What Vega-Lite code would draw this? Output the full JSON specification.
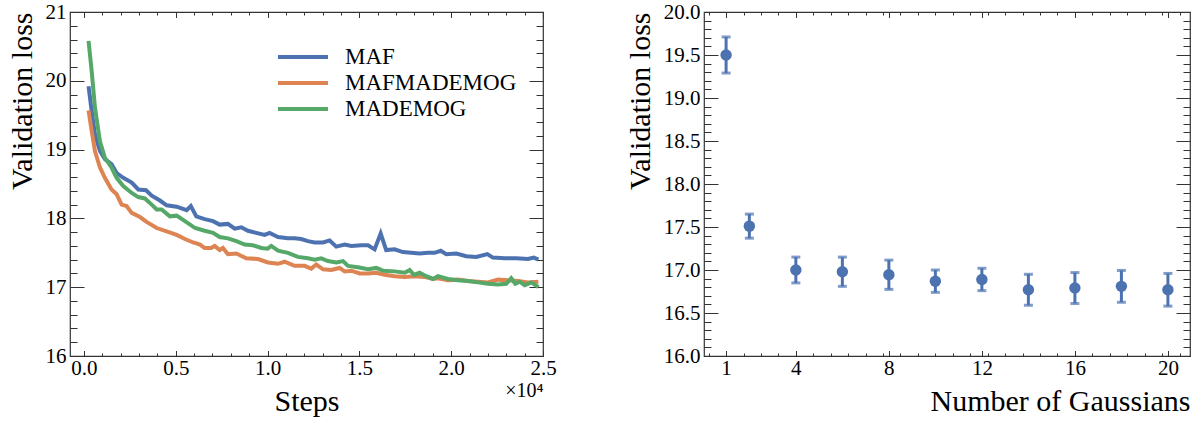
{
  "$schema": "https://vega.github.io/schema/vega-lite/v6.json",
  "padding": {"left": 6, "top": 0, "right": 5, "bottom": 5},
  "background": "white",
  "config": {
    "font": "Liberation Serif",
    "view": {"stroke": "#333", "strokeWidth": 1.2},
    "axis": {"grid": false, "domain": false, "tickColor": "#333", "tickWidth": 1, "labelFont": "Liberation Serif", "labelFontSize": 21, "labelColor": "#000", "titleFont": "Liberation Serif", "titleFontSize": 30, "titleFontWeight": "normal", "titleColor": "#000", "labelFlush": false, "labelOverlap": false}
  },
  "spacing": 67,
  "datasets": {
    "loss": [
      {"step":250,"loss":19.92,"model":"MAF"},{"step":420,"loss":19.56,"model":"MAF"},{"step":600,"loss":19.22,"model":"MAF"},{"step":870,"loss":18.98,"model":"MAF"},{"step":1140,"loss":18.86,"model":"MAF"},{"step":1500,"loss":18.79,"model":"MAF"},{"step":1780,"loss":18.66,"model":"MAF"},{"step":2140,"loss":18.59,"model":"MAF"},{"step":2600,"loss":18.52,"model":"MAF"},{"step":2960,"loss":18.42,"model":"MAF"},{"step":3380,"loss":18.41,"model":"MAF"},{"step":3690,"loss":18.33,"model":"MAF"},{"step":4140,"loss":18.26,"model":"MAF"},{"step":4500,"loss":18.19,"model":"MAF"},{"step":5050,"loss":18.17,"model":"MAF"},{"step":5590,"loss":18.12,"model":"MAF"},{"step":5820,"loss":18.18,"model":"MAF"},{"step":6120,"loss":18.03,"model":"MAF"},{"step":6570,"loss":17.99,"model":"MAF"},{"step":7030,"loss":17.96,"model":"MAF"},{"step":7390,"loss":17.91,"model":"MAF"},{"step":7840,"loss":17.92,"model":"MAF"},{"step":8210,"loss":17.85,"model":"MAF"},{"step":8570,"loss":17.87,"model":"MAF"},{"step":8930,"loss":17.82,"model":"MAF"},{"step":9380,"loss":17.79,"model":"MAF"},{"step":9840,"loss":17.76,"model":"MAF"},{"step":10110,"loss":17.79,"model":"MAF"},{"step":10570,"loss":17.73,"model":"MAF"},{"step":11110,"loss":17.71,"model":"MAF"},{"step":11470,"loss":17.71,"model":"MAF"},{"step":11830,"loss":17.7,"model":"MAF"},{"step":12200,"loss":17.67,"model":"MAF"},{"step":12560,"loss":17.65,"model":"MAF"},{"step":13020,"loss":17.65,"model":"MAF"},{"step":13380,"loss":17.68,"model":"MAF"},{"step":13740,"loss":17.59,"model":"MAF"},{"step":14200,"loss":17.62,"model":"MAF"},{"step":14560,"loss":17.6,"model":"MAF"},{"step":15100,"loss":17.61,"model":"MAF"},{"step":15470,"loss":17.61,"model":"MAF"},{"step":15830,"loss":17.55,"model":"MAF"},{"step":16160,"loss":17.78,"model":"MAF"},{"step":16460,"loss":17.54,"model":"MAF"},{"step":16920,"loss":17.55,"model":"MAF"},{"step":17370,"loss":17.51,"model":"MAF"},{"step":17830,"loss":17.5,"model":"MAF"},{"step":18280,"loss":17.49,"model":"MAF"},{"step":18730,"loss":17.5,"model":"MAF"},{"step":19100,"loss":17.5,"model":"MAF"},{"step":19430,"loss":17.53,"model":"MAF"},{"step":19730,"loss":17.48,"model":"MAF"},{"step":20280,"loss":17.49,"model":"MAF"},{"step":20820,"loss":17.45,"model":"MAF"},{"step":21370,"loss":17.44,"model":"MAF"},{"step":21970,"loss":17.48,"model":"MAF"},{"step":22270,"loss":17.43,"model":"MAF"},{"step":22910,"loss":17.42,"model":"MAF"},{"step":23540,"loss":17.42,"model":"MAF"},{"step":24180,"loss":17.41,"model":"MAF"},{"step":24500,"loss":17.43,"model":"MAF"},{"step":24750,"loss":17.4,"model":"MAF"},
      {"step":250,"loss":19.57,"model":"MAFMADEMOG"},{"step":420,"loss":19.27,"model":"MAFMADEMOG"},{"step":600,"loss":18.98,"model":"MAFMADEMOG"},{"step":870,"loss":18.74,"model":"MAFMADEMOG"},{"step":1140,"loss":18.59,"model":"MAFMADEMOG"},{"step":1500,"loss":18.42,"model":"MAFMADEMOG"},{"step":1780,"loss":18.35,"model":"MAFMADEMOG"},{"step":2050,"loss":18.2,"model":"MAFMADEMOG"},{"step":2320,"loss":18.18,"model":"MAFMADEMOG"},{"step":2600,"loss":18.08,"model":"MAFMADEMOG"},{"step":3050,"loss":18.02,"model":"MAFMADEMOG"},{"step":3410,"loss":17.95,"model":"MAFMADEMOG"},{"step":3960,"loss":17.86,"model":"MAFMADEMOG"},{"step":4500,"loss":17.81,"model":"MAFMADEMOG"},{"step":5050,"loss":17.76,"model":"MAFMADEMOG"},{"step":5500,"loss":17.7,"model":"MAFMADEMOG"},{"step":5950,"loss":17.65,"model":"MAFMADEMOG"},{"step":6320,"loss":17.62,"model":"MAFMADEMOG"},{"step":6570,"loss":17.57,"model":"MAFMADEMOG"},{"step":6930,"loss":17.57,"model":"MAFMADEMOG"},{"step":7120,"loss":17.6,"model":"MAFMADEMOG"},{"step":7390,"loss":17.54,"model":"MAFMADEMOG"},{"step":7570,"loss":17.57,"model":"MAFMADEMOG"},{"step":7840,"loss":17.48,"model":"MAFMADEMOG"},{"step":8300,"loss":17.49,"model":"MAFMADEMOG"},{"step":8840,"loss":17.42,"model":"MAFMADEMOG"},{"step":9480,"loss":17.41,"model":"MAFMADEMOG"},{"step":10020,"loss":17.36,"model":"MAFMADEMOG"},{"step":10570,"loss":17.34,"model":"MAFMADEMOG"},{"step":10930,"loss":17.37,"model":"MAFMADEMOG"},{"step":11470,"loss":17.31,"model":"MAFMADEMOG"},{"step":12020,"loss":17.31,"model":"MAFMADEMOG"},{"step":12380,"loss":17.27,"model":"MAFMADEMOG"},{"step":12650,"loss":17.33,"model":"MAFMADEMOG"},{"step":13020,"loss":17.26,"model":"MAFMADEMOG"},{"step":13470,"loss":17.25,"model":"MAFMADEMOG"},{"step":13920,"loss":17.28,"model":"MAFMADEMOG"},{"step":14200,"loss":17.23,"model":"MAFMADEMOG"},{"step":14560,"loss":17.24,"model":"MAFMADEMOG"},{"step":15010,"loss":17.2,"model":"MAFMADEMOG"},{"step":15470,"loss":17.2,"model":"MAFMADEMOG"},{"step":15920,"loss":17.21,"model":"MAFMADEMOG"},{"step":16370,"loss":17.18,"model":"MAFMADEMOG"},{"step":16920,"loss":17.16,"model":"MAFMADEMOG"},{"step":17470,"loss":17.15,"model":"MAFMADEMOG"},{"step":18010,"loss":17.16,"model":"MAFMADEMOG"},{"step":18550,"loss":17.15,"model":"MAFMADEMOG"},{"step":19010,"loss":17.12,"model":"MAFMADEMOG"},{"step":19280,"loss":17.13,"model":"MAFMADEMOG"},{"step":19820,"loss":17.1,"model":"MAFMADEMOG"},{"step":20370,"loss":17.11,"model":"MAFMADEMOG"},{"step":20910,"loss":17.09,"model":"MAFMADEMOG"},{"step":21460,"loss":17.08,"model":"MAFMADEMOG"},{"step":22000,"loss":17.07,"model":"MAFMADEMOG"},{"step":22550,"loss":17.11,"model":"MAFMADEMOG"},{"step":23090,"loss":17.1,"model":"MAFMADEMOG"},{"step":23640,"loss":17.09,"model":"MAFMADEMOG"},{"step":24180,"loss":17.07,"model":"MAFMADEMOG"},{"step":24750,"loss":17.08,"model":"MAFMADEMOG"},
      {"step":250,"loss":20.58,"model":"MADEMOG"},{"step":420,"loss":20.14,"model":"MADEMOG"},{"step":600,"loss":19.61,"model":"MADEMOG"},{"step":870,"loss":19.12,"model":"MADEMOG"},{"step":1140,"loss":18.88,"model":"MADEMOG"},{"step":1500,"loss":18.74,"model":"MADEMOG"},{"step":1780,"loss":18.59,"model":"MADEMOG"},{"step":2140,"loss":18.47,"model":"MADEMOG"},{"step":2600,"loss":18.37,"model":"MADEMOG"},{"step":2960,"loss":18.31,"model":"MADEMOG"},{"step":3320,"loss":18.29,"model":"MADEMOG"},{"step":3690,"loss":18.2,"model":"MADEMOG"},{"step":3960,"loss":18.13,"model":"MADEMOG"},{"step":4230,"loss":18.13,"model":"MADEMOG"},{"step":4680,"loss":18.03,"model":"MADEMOG"},{"step":5050,"loss":18.04,"model":"MADEMOG"},{"step":5500,"loss":17.96,"model":"MADEMOG"},{"step":6050,"loss":17.86,"model":"MADEMOG"},{"step":6570,"loss":17.82,"model":"MADEMOG"},{"step":7030,"loss":17.79,"model":"MADEMOG"},{"step":7390,"loss":17.73,"model":"MADEMOG"},{"step":7840,"loss":17.71,"model":"MADEMOG"},{"step":8300,"loss":17.67,"model":"MADEMOG"},{"step":8750,"loss":17.62,"model":"MADEMOG"},{"step":9200,"loss":17.61,"model":"MADEMOG"},{"step":9660,"loss":17.57,"model":"MADEMOG"},{"step":10000,"loss":17.56,"model":"MADEMOG"},{"step":10200,"loss":17.6,"model":"MADEMOG"},{"step":10570,"loss":17.53,"model":"MADEMOG"},{"step":11110,"loss":17.5,"model":"MADEMOG"},{"step":11650,"loss":17.44,"model":"MADEMOG"},{"step":12200,"loss":17.42,"model":"MADEMOG"},{"step":12560,"loss":17.4,"model":"MADEMOG"},{"step":12920,"loss":17.42,"model":"MADEMOG"},{"step":13290,"loss":17.38,"model":"MADEMOG"},{"step":13740,"loss":17.36,"model":"MADEMOG"},{"step":14110,"loss":17.38,"model":"MADEMOG"},{"step":14380,"loss":17.31,"model":"MADEMOG"},{"step":14920,"loss":17.29,"model":"MADEMOG"},{"step":15470,"loss":17.26,"model":"MADEMOG"},{"step":15920,"loss":17.28,"model":"MADEMOG"},{"step":16280,"loss":17.24,"model":"MADEMOG"},{"step":16920,"loss":17.23,"model":"MADEMOG"},{"step":17470,"loss":17.21,"model":"MADEMOG"},{"step":17740,"loss":17.25,"model":"MADEMOG"},{"step":17970,"loss":17.18,"model":"MADEMOG"},{"step":18280,"loss":17.21,"model":"MADEMOG"},{"step":18640,"loss":17.16,"model":"MADEMOG"},{"step":19010,"loss":17.12,"model":"MADEMOG"},{"step":19280,"loss":17.16,"model":"MADEMOG"},{"step":19820,"loss":17.12,"model":"MADEMOG"},{"step":20370,"loss":17.1,"model":"MADEMOG"},{"step":20910,"loss":17.09,"model":"MADEMOG"},{"step":21460,"loss":17.07,"model":"MADEMOG"},{"step":22000,"loss":17.05,"model":"MADEMOG"},{"step":22550,"loss":17.04,"model":"MADEMOG"},{"step":23000,"loss":17.05,"model":"MADEMOG"},{"step":23270,"loss":17.13,"model":"MADEMOG"},{"step":23490,"loss":17.05,"model":"MADEMOG"},{"step":23730,"loss":17.08,"model":"MADEMOG"},{"step":24000,"loss":17.03,"model":"MADEMOG"},{"step":24370,"loss":17.07,"model":"MADEMOG"},{"step":24750,"loss":17.0,"model":"MADEMOG"}
    ],
    "gauss": [
      {"n":1,"loss":19.5,"err":0.21},{"n":2,"loss":17.51,"err":0.14},{"n":4,"loss":17.0,"err":0.15},{"n":6,"loss":16.98,"err":0.17},{"n":8,"loss":16.945,"err":0.17},{"n":10,"loss":16.87,"err":0.13},{"n":12,"loss":16.89,"err":0.13},{"n":14,"loss":16.77,"err":0.18},{"n":16,"loss":16.79,"err":0.18},{"n":18,"loss":16.81,"err":0.185},{"n":20,"loss":16.77,"err":0.19}
    ]
  },
  "hconcat": [
    {
      "width": 473, "height": 344,
      "data": {"name": "loss"},
      "layer": [
        {"mark": {"type": "line", "strokeWidth": 4, "clip": true},
         "encoding": {
           "x": {"field": "step", "type": "quantitative", "scale": {"domain": [-760, 25000], "nice": false, "zero": false},
                 "axis": {"orient": "bottom", "values": [0, 5000, 10000, 15000, 20000, 25000], "labelExpr": "format(datum.value/10000,'.1f')", "tickSize": -5.5, "labelPadding": 7, "title": "Steps", "titlePadding": 8}},
           "y": {"field": "loss", "type": "quantitative", "scale": {"domain": [16, 21], "nice": false, "zero": false},
                 "axis": {"orient": "left", "values": [16, 17, 18, 19, 20, 21], "tickSize": -14, "labelPadding": 18, "title": "Validation loss", "titleAnchor": "end", "titlePadding": 8}},
           "color": {"field": "model", "type": "nominal", "scale": {"domain": ["MAF", "MAFMADEMOG", "MADEMOG"], "range": ["#4C72B0", "#DD8452", "#55A868"]},
                 "legend": {"orient": "none", "legendX": 206, "legendY": 33, "title": null, "symbolType": "M-1,0H4", "symbolSize": 400, "symbolStrokeWidth": 4, "labelFontSize": 23, "labelFont": "Liberation Serif", "labelColor": "#000", "labelOffset": 45, "labelLimit": 0, "rowPadding": 2, "padding": 0}}
         }},
        {"mark": {"type": "point", "opacity": 0},
         "encoding": {
           "x": {"field": "step", "type": "quantitative", "axis": {"orient": "bottom", "values": [1000, 2000, 3000, 4000, 6000, 7000, 8000, 9000, 11000, 12000, 13000, 14000, 16000, 17000, 18000, 19000, 21000, 22000, 23000, 24000], "labels": false, "tickSize": -3, "title": "×10⁴", "titleAnchor": "end", "titleFontSize": 20, "titlePadding": 24}},
           "y": {"field": "loss", "type": "quantitative", "axis": {"orient": "left", "values": [16.2, 16.4, 16.6, 16.8, 17.2, 17.4, 17.6, 17.8, 18.2, 18.4, 18.6, 18.8, 19.2, 19.4, 19.6, 19.8, 20.2, 20.4, 20.6, 20.8], "labels": false, "tickSize": -7, "title": null}}
         }},
        {"mark": {"type": "point", "opacity": 0},
         "encoding": {
           "x": {"field": "step", "type": "quantitative", "axis": {"orient": "top", "values": [0, 5000, 10000, 15000, 20000, 25000], "labels": false, "tickSize": -5.5, "title": null}},
           "y": {"field": "loss", "type": "quantitative", "axis": {"orient": "right", "values": [16, 17, 18, 19, 20, 21], "labels": false, "tickSize": -14, "title": null}}
         }},
        {"mark": {"type": "point", "opacity": 0},
         "encoding": {
           "x": {"field": "step", "type": "quantitative", "axis": {"orient": "top", "values": [1000, 2000, 3000, 4000, 6000, 7000, 8000, 9000, 11000, 12000, 13000, 14000, 16000, 17000, 18000, 19000, 21000, 22000, 23000, 24000], "labels": false, "tickSize": -3, "title": null}},
           "y": {"field": "loss", "type": "quantitative", "axis": {"orient": "right", "values": [16.2, 16.4, 16.6, 16.8, 17.2, 17.4, 17.6, 17.8, 18.2, 18.4, 18.6, 18.8, 19.2, 19.4, 19.6, 19.8, 20.2, 20.4, 20.6, 20.8], "labels": false, "tickSize": -7, "title": null}}
         }}
      ],
      "resolve": {"axis": {"x": "independent", "y": "independent"}}
    },
    {
      "width": 486, "height": 344,
      "data": {"name": "gauss"},
      "layer": [
        {"mark": {"type": "errorbar", "ticks": {"size": 9, "thickness": 3}, "thickness": 3, "color": "#4C72B0"},
         "encoding": {
           "x": {"field": "n", "type": "quantitative", "scale": {"domain": [0.05, 20.95], "nice": false, "zero": false}, "axis": null},
           "y": {"field": "loss", "type": "quantitative", "scale": {"domain": [16, 20], "nice": false, "zero": false}, "axis": null},
           "yError": {"field": "err"}
         }},
        {"mark": {"type": "point", "filled": true, "size": 130, "opacity": 1, "color": "#4C72B0"},
         "encoding": {
           "x": {"field": "n", "type": "quantitative", "axis": {"orient": "bottom", "values": [1, 4, 8, 12, 16, 20], "tickSize": -5.5, "labelPadding": 7, "title": "Number of Gaussians", "titleAnchor": "end", "titlePadding": 8}},
           "y": {"field": "loss", "type": "quantitative", "axis": {"orient": "left", "values": [16, 16.5, 17, 17.5, 18, 18.5, 19, 19.5, 20], "format": ".1f", "tickSize": -14, "labelPadding": 18, "title": "Validation loss", "titleAnchor": "end", "titlePadding": 8}}
         }},
        {"mark": {"type": "point", "opacity": 0},
         "encoding": {
           "x": {"field": "n", "type": "quantitative", "axis": {"orient": "bottom", "values": [0.25, 1, 1.75, 2.5, 3.25, 4, 4.75, 5.5, 6.25, 7, 7.75, 8.5, 9.25, 10, 10.75, 11.5, 12.25, 13, 13.75, 14.5, 15.25, 16, 16.75, 17.5, 18.25, 19, 19.75, 20.5], "labels": false, "tickSize": -3, "title": null}},
           "y": {"field": "loss", "type": "quantitative", "axis": {"orient": "left", "values": [16.1, 16.2, 16.3, 16.4, 16.6, 16.7, 16.8, 16.9, 17.1, 17.2, 17.3, 17.4, 17.6, 17.7, 17.8, 17.9, 18.1, 18.2, 18.3, 18.4, 18.6, 18.7, 18.8, 18.9, 19.1, 19.2, 19.3, 19.4, 19.6, 19.7, 19.8, 19.9], "labels": false, "tickSize": -7, "title": null}}
         }},
        {"mark": {"type": "point", "opacity": 0},
         "encoding": {
           "x": {"field": "n", "type": "quantitative", "axis": {"orient": "top", "values": [1, 4, 8, 12, 16, 20], "labels": false, "tickSize": -5.5, "title": null}},
           "y": {"field": "loss", "type": "quantitative", "axis": {"orient": "right", "values": [16, 16.5, 17, 17.5, 18, 18.5, 19, 19.5, 20], "labels": false, "tickSize": -14, "title": null}}
         }},
        {"mark": {"type": "point", "opacity": 0},
         "encoding": {
           "x": {"field": "n", "type": "quantitative", "axis": {"orient": "top", "values": [0.25, 1, 1.75, 2.5, 3.25, 4, 4.75, 5.5, 6.25, 7, 7.75, 8.5, 9.25, 10, 10.75, 11.5, 12.25, 13, 13.75, 14.5, 15.25, 16, 16.75, 17.5, 18.25, 19, 19.75, 20.5], "labels": false, "tickSize": -3, "title": null}},
           "y": {"field": "loss", "type": "quantitative", "axis": {"orient": "right", "values": [16.1, 16.2, 16.3, 16.4, 16.6, 16.7, 16.8, 16.9, 17.1, 17.2, 17.3, 17.4, 17.6, 17.7, 17.8, 17.9, 18.1, 18.2, 18.3, 18.4, 18.6, 18.7, 18.8, 18.9, 19.1, 19.2, 19.3, 19.4, 19.6, 19.7, 19.8, 19.9], "labels": false, "tickSize": -7, "title": null}}
         }}
      ],
      "resolve": {"axis": {"x": "independent", "y": "independent"}}
    }
  ]
}
